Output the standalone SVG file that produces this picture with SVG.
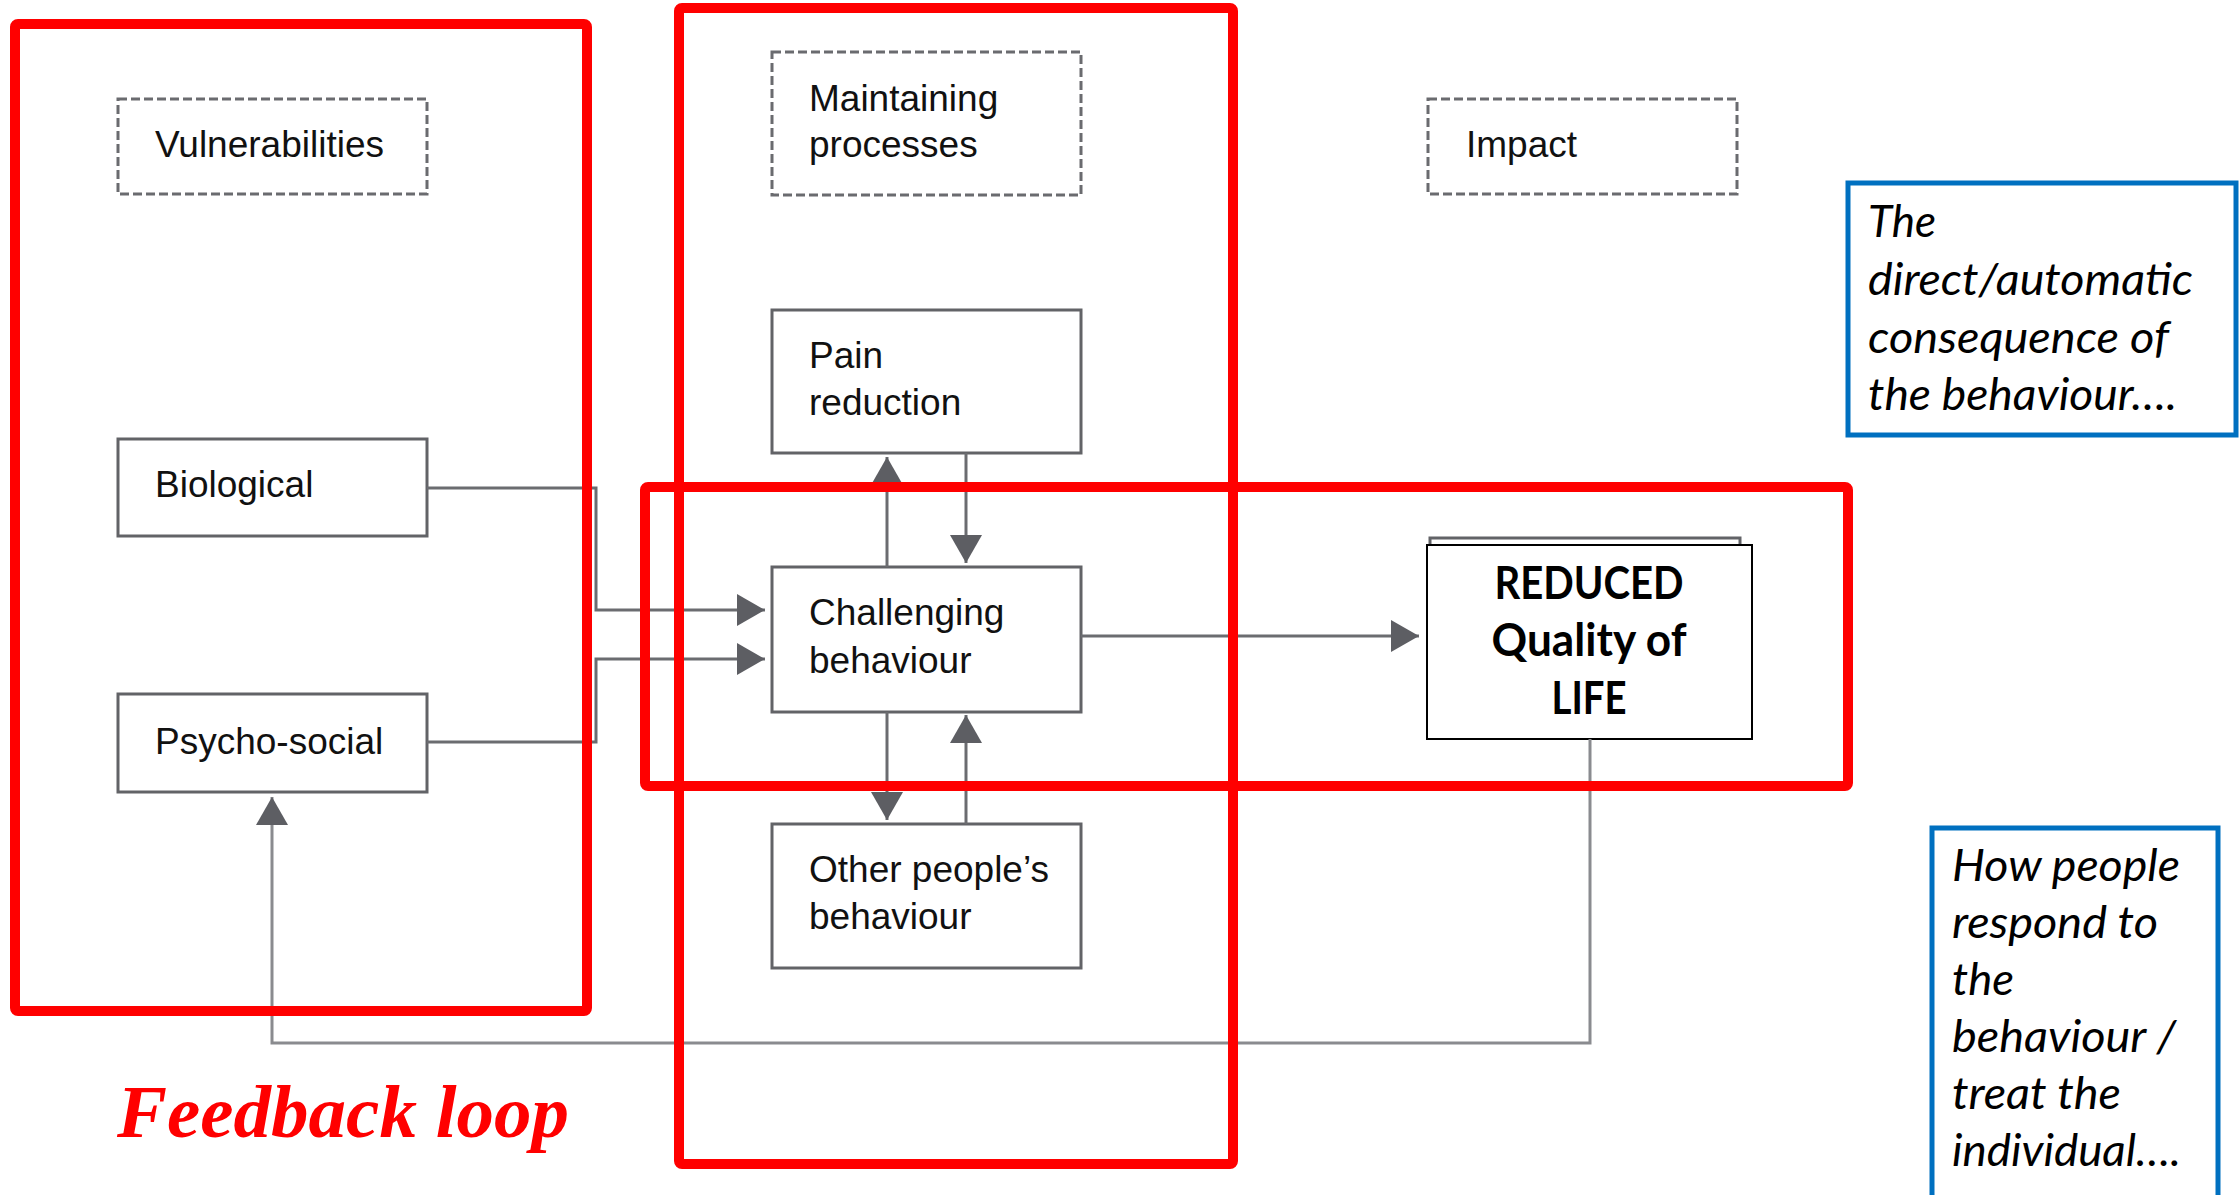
<svg xmlns="http://www.w3.org/2000/svg" width="2240" height="1195" viewBox="0 0 2240 1195">
<style>
.box{fill:#fff;stroke:#626367;stroke-width:3}
.dash{fill:#fff;stroke:#6a6b6f;stroke-width:3;stroke-dasharray:9 4}
.lbl{font-family:"Liberation Sans",Arial,sans-serif;font-size:37px;fill:#111}
.con{fill:none;stroke:#6b6c70;stroke-width:3}
.fb{fill:none;stroke:#8a8b8f;stroke-width:3}
.red{fill:none;stroke:#ff0000;stroke-width:10;stroke-linejoin:round}
.blue{fill:#fff;stroke:#0070c0;stroke-width:5}
.ital{font-family:Lato,"Open Sans",sans-serif;font-style:italic;font-size:44px;fill:#000}
.bold{font-family:Lato,"Open Sans",sans-serif;font-weight:bold;font-size:45px;fill:#000;text-anchor:middle}
.fbtxt{font-family:"Liberation Serif","Times New Roman",serif;font-weight:bold;font-style:italic;font-size:75px;fill:#ff0000}
</style>
<defs>
<marker id="ah" markerUnits="userSpaceOnUse" markerWidth="30" markerHeight="34" refX="28" refY="16" orient="auto" viewBox="0 0 30 34">
<path d="M0,0 L28,16 L0,32 z" fill="#5d5e63"/>
</marker>
</defs>

<g id="vulnerabilities">
<rect class="dash" x="118" y="99" width="309" height="95"/>
<text class="lbl" x="155" y="157">Vulnerabilities</text>
</g>
<g id="maintaining">
<rect class="dash" x="772" y="52" width="309" height="143"/>
<text class="lbl" x="809" y="111">Maintaining</text>
<text class="lbl" x="809" y="157">processes</text>
</g>
<g id="impact">
<rect class="dash" x="1428" y="99" width="309" height="95"/>
<text class="lbl" x="1466" y="157">Impact</text>
</g>
<g id="pain">
<rect class="box" x="772" y="310" width="309" height="143"/>
<text class="lbl" x="809" y="368">Pain</text>
<text class="lbl" x="809" y="415">reduction</text>
</g>
<g id="biological">
<rect class="box" x="118" y="439" width="309" height="97"/>
<text class="lbl" x="155" y="497">Biological</text>
</g>
<g id="psychosocial">
<rect class="box" x="118" y="694" width="309" height="98"/>
<text class="lbl" x="155" y="754">Psycho-social</text>
</g>
<g id="challenging">
<rect class="box" x="772" y="567" width="309" height="145"/>
<text class="lbl" x="809" y="625">Challenging</text>
<text class="lbl" x="809" y="673">behaviour</text>
</g>
<g id="others">
<rect class="box" x="772" y="824" width="309" height="144"/>
<text class="lbl" x="809" y="882">Other people’s</text>
<text class="lbl" x="809" y="929">behaviour</text>
</g>
<g id="quality">
<rect class="box" x="1430" y="538" width="310" height="120"/>
<rect x="1427" y="545" width="325" height="194" fill="#fff" stroke="#000" stroke-width="2"/>
<text class="bold" x="1589" y="599" textLength="189" lengthAdjust="spacingAndGlyphs">REDUCED</text>
<text class="bold" x="1589" y="656" textLength="195" lengthAdjust="spacingAndGlyphs">Quality of</text>
<text class="bold" x="1589" y="714" textLength="75" lengthAdjust="spacingAndGlyphs">LIFE</text>
</g>

<g id="connectors">
<path class="con" d="M427,488 H596 V610 H765" marker-end="url(#ah)"/>
<path class="con" d="M427,742 H596 V659 H765" marker-end="url(#ah)"/>
<path class="con" d="M887,567 V457" marker-end="url(#ah)"/>
<path class="con" d="M966,453 V563" marker-end="url(#ah)"/>
<path class="con" d="M887,712 V820" marker-end="url(#ah)"/>
<path class="con" d="M966,824 V715" marker-end="url(#ah)"/>
<path class="con" d="M1081,636 H1419" marker-end="url(#ah)"/>
<path class="fb" d="M1590,739 V1043 H272 V797" marker-end="url(#ah)"/>
</g>

<g id="highlights">
<rect class="red" x="15" y="24" width="572" height="987" rx="3"/>
<rect class="red" x="679" y="8" width="554" height="1156" rx="3"/>
<rect class="red" x="645" y="487" width="1203" height="299" rx="3"/>
</g>

<g id="note-direct">
<rect class="blue" x="1848" y="183" width="388" height="252"/>
<text class="ital" x="1868" y="237" textLength="68" lengthAdjust="spacingAndGlyphs">The</text>
<text class="ital" x="1868" y="295" textLength="325" lengthAdjust="spacingAndGlyphs">direct/automatic</text>
<text class="ital" x="1868" y="353" textLength="301" lengthAdjust="spacingAndGlyphs">consequence of</text>
<text class="ital" x="1868" y="410" textLength="309" lengthAdjust="spacingAndGlyphs">the behaviour….</text>
</g>
<g id="note-respond">
<rect class="blue" x="1932" y="828" width="286" height="380"/>
<text class="ital" x="1952" y="881" textLength="228" lengthAdjust="spacingAndGlyphs">How people</text>
<text class="ital" x="1952" y="938" textLength="206" lengthAdjust="spacingAndGlyphs">respond to</text>
<text class="ital" x="1952" y="995" textLength="62" lengthAdjust="spacingAndGlyphs">the</text>
<text class="ital" x="1952" y="1052" textLength="224" lengthAdjust="spacingAndGlyphs">behaviour /</text>
<text class="ital" x="1952" y="1109" textLength="169" lengthAdjust="spacingAndGlyphs">treat the</text>
<text class="ital" x="1952" y="1166" textLength="229" lengthAdjust="spacingAndGlyphs">individual….</text>
</g>

<g id="feedback-label">
<text class="fbtxt" x="117" y="1137">Feedback loop</text>
</g>
</svg>
